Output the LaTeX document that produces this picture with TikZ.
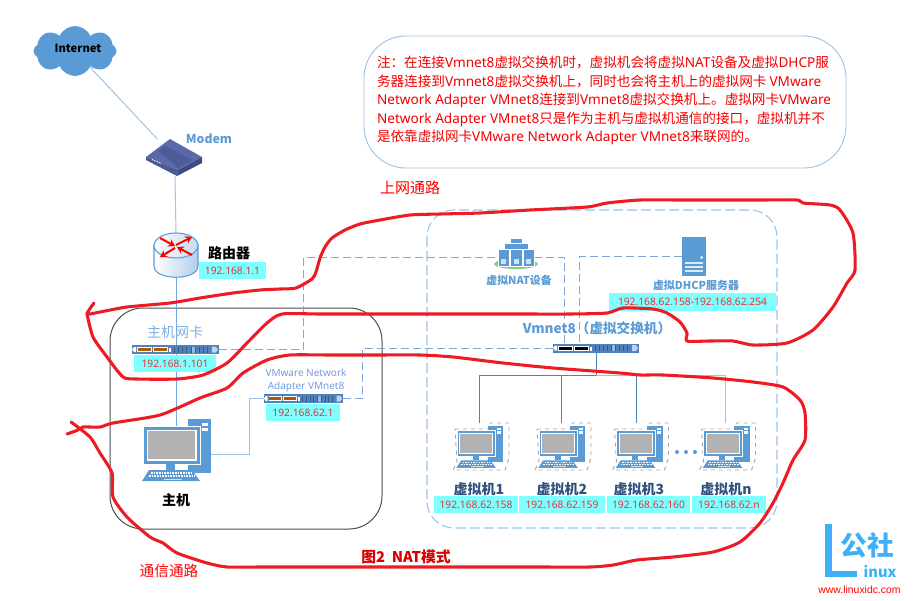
\documentclass[tikz,border=0pt]{standalone}
\usepackage{fontspec}
\setmainfont{Noto Sans CJK SC}
\newfontfamily\latfont{Noto Sans}
\newfontfamily\webfont{Liberation Sans}
\usepackage{tikz}
\usetikzlibrary{arrows.meta,shapes.symbols}

\definecolor{iconblue}{HTML}{5B9BD5}
\definecolor{linkblue}{HTML}{9DC3E6}
\definecolor{dashblue}{HTML}{7FA8DA}
\definecolor{labelblue}{HTML}{7DADDD}
\definecolor{vmnavy}{HTML}{2F527F}
\definecolor{ipcyan}{HTML}{80FFFF}
\definecolor{ipred}{HTML}{E8303A}
\definecolor{penred}{HTML}{ED1C24}
\definecolor{barblue}{HTML}{4F81BD}
\definecolor{logoblue}{HTML}{3FB0F5}
\definecolor{modemtop}{HTML}{5B69A9}
\definecolor{modemfront}{HTML}{4A5896}
\definecolor{modemside}{HTML}{3C4A86}

\newcommand{\fsz}[1]{\fontsize{#1}{#1}\selectfont}
\newcommand{\lat}[1]{{\latfont #1}}
\def\pxu{0.75pt}

\tikzset{
    spot/.style = {inner sep = 0pt, outer sep = 0pt},
    link/.style = {linkblue, line width = 0.75pt},
    tree/.style = {iconblue!85!black, line width = 0.7pt},
    dashlink/.style = {dashblue, line width = 0.7pt, dash pattern = on 6pt off 3pt},
    ipbox/.style = {spot, fill = ipcyan, text = ipred, font = \latfont\fsz{7.7}},
    penline/.style = {penred, line width = 2.3pt, line join = round, line cap = round},
    routerarrow/.style = {red, line width = 1.5pt, -{Stealth[length = 5pt, width = 6pt]}},
    pics/nicbar/.style = {code = {
        \fill [barblue] (-43,-4.5) rectangle (43,4.5);
        \fill [white] (-41,-2.5) -- (-39,-2.5) -- (-39,2.5) -- (-41,2.5) -- (-43,0) -- cycle;
        \fill [white] (-38,-2.5) rectangle (-23,2.5);
        \fill [white] (-22,-2.5) rectangle (-7,2.5);
        \fill [#1] (-37,-1.5) rectangle (-24,1.5);
        \fill [#1] (-21,-1.5) rectangle (-8,1.5);
        \fill [white] (-6,-1.5) rectangle (-4,2.5);
        \fill [barblue!55] (16,-3) rectangle (19,3);
        \fill [barblue!35!white] (36,-3) -- (40,-3) -- (42,0) -- (40,3) -- (36,3) -- cycle;
        \foreach \t in {-1,3,...,31} {\draw [barblue!70!black, line width = 0.2pt] (\t,-3) -- (\t,3);}
    }},
    pics/pcicon/.style = {code = {
        \fill [iconblue] (12,-35) rectangle (35,19);
        \fill [white] (26,-31) rectangle (32,-28);
        \fill [white] (26,-26.5) rectangle (32,-23.5);
        \draw [white, fill = iconblue, line width = 0.7pt] (-33,-28) rectangle (24,10);
        \fill [white] (-29.5,-24.5) rectangle (20.5,6.5);
        \fill [lightgray!80!gray] (-28,-23) rectangle (19,5);
        \fill [iconblue] (-10,10) rectangle (-1,15.5);
        \fill [iconblue] (-27,16) -- (16,16) -- (24,27) -- (-34,27) -- cycle;
        \draw [white, dashed, dash pattern = on 1.2pt off 0.8pt, line width = 1pt] (-25,19) -- (16,19);
        \draw [white, dashed, dash pattern = on 1.2pt off 0.8pt, line width = 1pt] (-27,22) -- (19,22);
        \fill [white!70!iconblue] (-12,24.5) rectangle (6,26);
    }},
    pics/vmicon/.style = {code = {
        \draw [gray!70, dashed, line width = 0.7pt] (-27,-17) -- (8,-17) -- (8,-23) -- (27,-23)
            -- (27,12) -- (23,24) -- (-29,24) -- (-25,16) -- cycle;
        \pic [scale = 0.68] at (-2.5,3.5) {pcicon};
    }},
}

\begin{document}
\begin{tikzpicture}[x = 0.75pt, y = -0.75pt]
        \useasboundingbox (0,0) rectangle (914,600);

        \node [spot] (modem) at (175,158) [minimum width = 56*\pxu, minimum height = 37*\pxu] {};
        \node [spot] (router) at (176,255) [minimum width = 44*\pxu, minimum height = 44*\pxu] {};
        \node [spot] (hostpc) at (176,454) [minimum width = 69*\pxu, minimum height = 54*\pxu] {};
        \node [spot] (hostnic) at (175.5,349.5) [minimum width = 87*\pxu, minimum height = 9*\pxu] {};
        \node [spot] (adapter) at (303.5,398.5) [minimum width = 79*\pxu, minimum height = 9*\pxu] {};
        \node [spot] (vsw) at (596,348) [minimum width = 86*\pxu, minimum height = 10*\pxu] {};
        \node [spot] (natdev) at (516,257) [minimum width = 36*\pxu, minimum height = 18*\pxu] {};
        \node [spot] (dhcp) at (694,256.5) [minimum width = 24*\pxu, minimum height = 39*\pxu] {};
        \node [spot] (vma) at (482,446) [minimum width = 54*\pxu, minimum height = 47*\pxu] {};
        \node [spot] (vmb) at (564,446) [minimum width = 54*\pxu, minimum height = 47*\pxu] {};
        \node [spot] (vmc) at (641.5,446) [minimum width = 54*\pxu, minimum height = 47*\pxu] {};
        \node [spot] (vmn) at (728.5,446) [minimum width = 54*\pxu, minimum height = 47*\pxu] {};

        \draw [linkblue, line width = 0.7pt, rounded corners = 42*\pxu] (364,36) rectangle (846,168);
        \draw [black!70, line width = 0.75pt, rounded corners = 33*\pxu] (110,308) rectangle (382,529);
        \draw [linkblue, line width = 0.8pt, dash pattern = on 7.5pt off 3pt, rounded corners = 27*\pxu]
            (427,210) rectangle (777,528);

        \node [cloud, cloud puffs = 8, cloud puff arc = 130, aspect = 1.8, fill = iconblue, spot,
            minimum width = 83*\pxu, minimum height = 50*\pxu] (inet) at (75,51) {};
        \node [spot, text = black, font = \bfseries\fsz{8.4}] (inettxt) at (78,48) {Internet};

        \draw [link] (inet) -- (modem);
        \draw [link] (modem.south) -- (router.north);
        \draw [iconblue!85, line width = 0.75pt] (router.south) -- (hostpc.north);
        \draw [link] (hostpc.east) -- ++(39,0) |- (adapter.west);
        \draw [dashlink] (hostnic.east) -- ++(84,0) |- (natdev.west);
        \draw [dashlink] (natdev.east) -| ([xshift = -24pt]vsw.north);
        \draw [dashlink] (dhcp.west) -| ([xshift = -12.75pt]vsw.north);
        \draw [dashlink] (adapter.east) -- ++(19,0) |- (vsw.west);
        \draw [tree] (vsw.south) -- ++(0,22) -| ([xshift = -2.25pt]vma.north);
        \draw [tree] (vsw.south) -- ++(0,22) -| ([xshift = -2.25pt]vmb.north);
        \draw [tree] (vsw.south) -- ++(0,22) -| ([xshift = -4.1pt]vmc.north);
        \draw [link] (vsw.south) ++(0,22) -| ([xshift = -1.9pt]vmn.north);

        \fill [modemtop] (170,139) -- (202,157) -- (178,170) -- (146,157) -- cycle;
        \fill [modemfront!85!modemtop] (158,150.5) -- (166,146) -- (192,160) -- (178,168) -- cycle;
        \fill [modemfront] (146,157) -- (178,170) -- (177,176) -- (146,160) -- cycle;
        \fill [modemside] (202,157) -- (202,163) -- (177,176) -- (178,170) -- cycle;
        \draw [white, dash pattern = on 0.8pt off 0.6pt, line width = 0.6pt] (152,159.5) -- (161,163.5);
        \node [spot, text = iconblue, font = \bfseries\fsz{9.2}] (modemtxt) at (209,139) {Modem};

        \draw [iconblue, left color = white, right color = linkblue!80, line width = 0.8pt]
            (154,245) -- (154,266) .. controls (154,281) and (198,281) .. (198,266) -- (198,245) -- cycle;
        \draw [iconblue, left color = white, right color = linkblue!60, line width = 0.8pt]
            (176,245.5) ellipse [x radius = 22, y radius = 12.5];
        \draw [routerarrow] (176,245) -- (192,237);
        \draw [routerarrow] (175,248) -- (160,257);
        \draw [routerarrow] (192,255) -- (177,247);
        \draw [routerarrow] (160,238) -- (175,246);
        \node [spot, font = \bfseries\fsz{10.5}] (routertxt) at (229,253) {路由器};
        \node [ipbox, minimum width = 67*\pxu, minimum height = 17*\pxu] (routerip) at (232.5,270.5) {192.168.1.1};

        \node [spot, text = labelblue, font = \fsz{10.5}] (hostnictxt) at (175,332) {主机网卡};
        \pic at (hostnic) [xscale = 1.01] {nicbar = orange!70!black};
        \node [ipbox, minimum width = 82*\pxu, minimum height = 17*\pxu] (hostnicip) at (175,363.5) {192.168.1.101};

        \node [spot, text = labelblue!90!blue, font = \latfont\fsz{7.5}, align = center] (adaptertxt) at (306,380)
            {VMware Network\\[2.3pt]Adapter VMnet8};
        \pic at (adapter) [xscale = 0.92] {nicbar = orange!70!black};
        \node [ipbox, minimum width = 74*\pxu, minimum height = 17*\pxu] (adapterip) at (303,412.5) {192.168.62.1};

        \pic at (hostpc) {pcicon};
        \node [spot, font = \bfseries\fsz{10.5}] (hostpctxt) at (176,500) {主机};

        \fill [iconblue] (511,239) rectangle (522,243);
        \fill [iconblue] (505,244) rectangle (528,249);
        \fill [green!45!gray!70!white] (516,264) ellipse [x radius = 22, y radius = 5];
        \foreach \sx in {498,510.5,523} {
            \fill [iconblue, draw = white, line width = 0.3pt] (\sx,249) rectangle ++(11.5,17);
            \fill [white!70!iconblue] (\sx+3,259) rectangle ++(5,5);
        }
        \node [spot, text = iconblue, font = \bfseries\fsz{8.2}] (nattxt) at (519,280) {虚拟NAT设备};

        \fill [iconblue] (682,237) rectangle (706,276);
        \fill [white!70!yellow] (701.5,257.5) circle [radius = 1.5];
        \fill [white!80!iconblue] (685,262) rectangle (703,264);
        \fill [white!80!iconblue] (685,266) rectangle (703,268);
        \fill [white!80!iconblue] (685,270) rectangle (703,272);
        \node [spot, text = iconblue, font = \bfseries\fsz{8.2}] (dhcptxt) at (696,285) {虚拟DHCP服务器};
        \node [ipbox, minimum width = 167*\pxu, minimum height = 18*\pxu] (dhcpip) at (692.5,302) {192.168.62.158-192.168.62.254};

        \node [spot, text = iconblue, font = \bfseries\fsz{10.2}] (vswtxt) at (597,328) {Vmnet8（虚拟交换机）};
        \pic at (vsw) {nicbar = black};

        \pic at (vma) {vmicon};
        \pic at (vmb) {vmicon};
        \pic at (vmc) {vmicon};
        \pic at (vmn) {vmicon};
        \fill [iconblue] (677,452) circle [radius = 2];
        \fill [iconblue] (686,452) circle [radius = 2];
        \fill [iconblue] (695,452) circle [radius = 2];

        \node [spot, text = vmnavy, font = \bfseries\fsz{10.5}] (vmatxt) at (479,489) {虚拟机1};
        \node [spot, text = vmnavy, font = \bfseries\fsz{10.5}] (vmbtxt) at (562,489) {虚拟机2};
        \node [spot, text = vmnavy, font = \bfseries\fsz{10.5}] (vmctxt) at (639,489) {虚拟机3};
        \node [spot, text = vmnavy, font = \bfseries\fsz{10.5}] (vmntxt) at (726,489) {虚拟机n};
        \node [ipbox, minimum width = 84*\pxu, minimum height = 17*\pxu] (vmaip) at (476,504.5) {192.168.62.158};
        \node [ipbox, minimum width = 86*\pxu, minimum height = 17*\pxu] (vmbip) at (562,504.5) {192.168.62.159};
        \node [ipbox, minimum width = 83*\pxu, minimum height = 17*\pxu] (vmcip) at (648.5,504.5) {192.168.62.160};
        \node [ipbox, minimum width = 74*\pxu, minimum height = 17*\pxu] (vmnip) at (729,504.5) {192.168.62.n};

        \node [spot, anchor = north west, text = red!95!black, align = left, font = \fontsize{10.2}{13.95}\selectfont] (notetxt) at (377,56)
            {注：在连接\lat{Vmnet8}虚拟交换机时，虚拟机会将虚拟\lat{NAT}设备及虚拟\lat{DHCP}服\\
            务器连接到\lat{Vmnet8}虚拟交换机上，同时也会将主机上的虚拟网卡 \lat{VMware}\\
            \lat{Network Adapter VMnet8}连接到\lat{Vmnet8}虚拟交换机上。虚拟网卡\lat{VMware}\\
            \lat{Network Adapter VMnet8}只是作为主机与虚拟机通信的接口，虚拟机并不\\
            是依靠虚拟网卡\lat{VMware Network Adapter VMnet8}来联网的。};

        \node [spot, text = red, font = \fsz{11.25}] (uplinktxt) at (410,188) {上网通路};
        \node [spot, text = red, font = \fsz{11}] (commtxt) at (169,571) {通信通路};
        \node [spot, text = red!85!black, font = \bfseries\fsz{11.1}] (figtxt) at (406,557) {图2\ \ NAT模式};

        \draw [penline] plot [smooth, tension = 0.4] coordinates {(94,303) (87,314) (100,312) (127,307) (170,303)
            (200,298) (233,293) (260,290) (280,289) (296,288) (312,279) (316,272) (320,258) (325,247) (332,238)
            (345,230) (360,224) (380,220) (410,215) (440,214) (480,213) (530,210) (587,207) (607,203) (640,200)
            (680,200) (720,200) (760,200) (797,200) (803,203) (830,205) (840,210) (853,233) (855,270) (847,283)
            (833,307) (813,330) (787,343) (753,345) (733,341) (710,341) (687,341) (687,333) (680,322) (667,313)
            (653,309) (623,308) (607,313) (570,314) (520,314) (470,314) (420,314) (370,314) (320,314) (282,314)
            (267,323) (247,343) (227,363) (203,375) (177,379) (137,379) (123,377) (107,357) (93,337) (87,314)};
        \draw [penline] plot [smooth, tension = 0.4] coordinates {(67,434) (78,430) (83,427) (100,427) (113,423)
            (160,415) (200,398) (227,388) (243,373) (267,360) (290,355) (330,355) (375,355) (420,355) (453,357)
            (503,363) (553,368) (620,373) (640,375) (663,375) (713,378) (753,382) (783,387) (800,400) (805,413)
            (805,440) (793,460) (783,483) (773,503) (760,523) (740,542) (713,552) (673,557) (637,560) (613,565)
            (590,567) (540,567) (480,567) (420,567) (360,567) (300,567) (260,567) (227,567) (207,563) (177,553)
            (163,543) (150,537) (127,517) (113,497) (112,473) (100,453) (90,437) (71,422)};

        \fill [logoblue] (825,524) rectangle (832,577);
        \fill [logoblue] (825,571) rectangle (857,577);
        \node [spot, text = logoblue, font = \bfseries\fsz{20}] (logotxt) at (867.5,545) {公社};
        \node [spot, text = logoblue, font = \bfseries\fsz{11}] (logolat) at (880,572) {inux};
        \node [spot, text = red, font = \webfont\fsz{7.8}] (logoweb) at (859.5,590) {www.linuxidc.com};
    \end{tikzpicture}
\end{document}
